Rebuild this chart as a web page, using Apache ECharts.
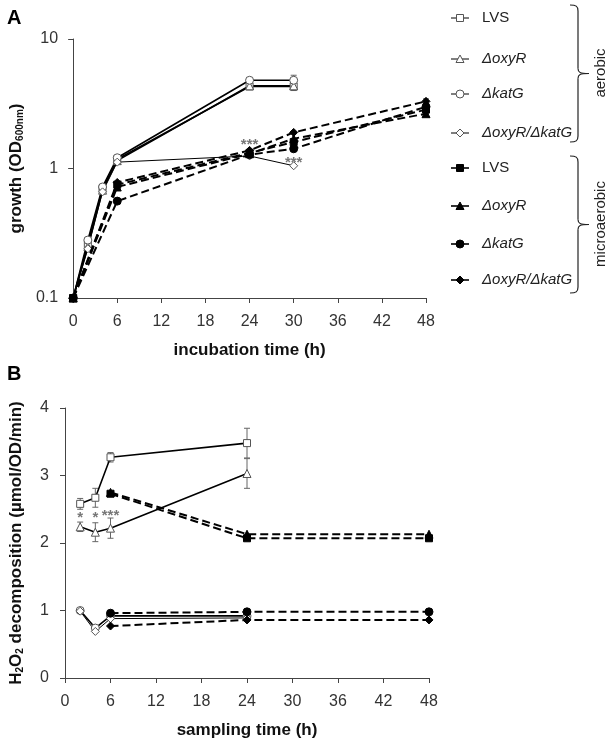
<!DOCTYPE html>
<html><head><meta charset="utf-8">
<script src="https://cdn.jsdelivr.net/npm/echarts@6/dist/echarts.min.js"></script>
<style>html,body{margin:0;padding:0;background:#fff}#c{width:616px;height:741px}</style>
</head><body><div id="c"></div>
<script>
// ---------- Panel A data (growth, OD600) ----------
const xTicks = [0, 6, 12, 18, 24, 30, 36, 42, 48];
const timeA_aer = [0, 2, 4, 6, 24, 30];
const A_aer_LVS  = [0.1, 0.26, 0.70, 1.18, 4.3, 4.3];
const A_aer_oxyR = [0.1, 0.25, 0.68, 1.15, 4.35, 4.35];
const A_aer_katG = [0.1, 0.28, 0.72, 1.21, 4.8, 4.8];
const A_aer_dbl  = [0.1, 0.24, 0.66, 1.12, 1.25, 1.05];
const timeA_mic = [0, 6, 24, 30, 48];
const A_mic_LVS  = [0.1, 0.75, 1.32, 1.60, 2.85];
const A_mic_oxyR = [0.1, 0.72, 1.30, 1.70, 2.65];
const A_mic_katG = [0.1, 0.56, 1.28, 1.42, 3.0];
const A_mic_dbl  = [0.1, 0.78, 1.38, 1.90, 3.3];
// error bars A: [time, value, err]
const A_err = [[30, 4.3, 0.3], [30, 4.8, 0.45], [24, 4.8, 0.2], [48, 2.85, 0.2], [48, 3.3, 0.15], [48, 2.65, 0.12]];
const A_stars = [[24, 1.53, '***'], [30, 1.11, '***']];

// ---------- Panel B data (H2O2 decomposition) ----------
const timeB_aer = [2, 4, 6, 24];
const B_aer_LVS  = [2.58, 2.67, 3.27, 3.48];
const B_aer_LVS_err = [0.08, 0.14, 0.07, 0.22];
const B_aer_oxyR = [2.24, 2.16, 2.22, 3.03];
const B_aer_oxyR_err = [0.07, 0.14, 0.15, 0.22];
const B_aer_katG = [1.0, 0.74, 0.92, 0.92];
const B_aer_dbl  = [0.99, 0.69, 0.88, 0.89];
const timeB_mic = [6, 24, 48];
const B_mic_LVS  = [2.73, 2.07, 2.07];
const B_mic_oxyR = [2.75, 2.13, 2.13];
const B_mic_katG = [0.96, 0.98, 0.98];
const B_mic_dbl  = [0.77, 0.86, 0.86];
const B_stars = [[2, 2.37, '*'], [4, 2.37, '*'], [6, 2.40, '***']];

const legendNames = ['LVS', 'ΔoxyR', 'ΔkatG', 'ΔoxyR/ΔkatG'];

// ---------- helpers ----------
const zip = (t, v) => t.map((x, i) => [x, v[i]]);
const FONT = 'Liberation Sans, Arial, sans-serif';
const symbols = ['rect', 'triangle', 'circle', 'diamond'];
const sizes = [7, 8, 8, 8];
function lineSeries(name, t, v, k, open, xi) {
  return {
    type: 'line', name: name, xAxisIndex: xi, yAxisIndex: xi,
    data: zip(t, v), symbol: symbols[k], symbolSize: sizes[k], showSymbol: true,
    lineStyle: open ? { color: '#000', width: k === 3 ? 1 : 1.6 } : { color: '#000', width: 2, type: [8, 4] },
    itemStyle: open ? { color: '#fff', borderColor: '#555', borderWidth: 1 } : { color: '#000', borderColor: '#000', borderWidth: 1 },
    z: open ? 3 : 4, animation: false
  };
}
function errSeries(list, xi) {
  return {
    type: 'custom', xAxisIndex: xi, yAxisIndex: xi, z: 2, silent: true, animation: false,
    data: list.map(d => [d[0], d[1] - d[2], d[1] + d[2]]),
    renderItem: function (params, api) {
      const lo = api.coord([api.value(0), api.value(1)]);
      const hi = api.coord([api.value(0), api.value(2)]);
      const w = 3;
      const st = { stroke: '#666', lineWidth: 1 };
      return { type: 'group', children: [
        { type: 'line', shape: { x1: lo[0], y1: lo[1], x2: hi[0], y2: hi[1] }, style: st },
        { type: 'line', shape: { x1: lo[0] - w, y1: lo[1], x2: lo[0] + w, y2: lo[1] }, style: st },
        { type: 'line', shape: { x1: hi[0] - w, y1: hi[1], x2: hi[0] + w, y2: hi[1] }, style: st }
      ]};
    }
  };
}
function starSeries(list, xi) {
  return {
    type: 'scatter', xAxisIndex: xi, yAxisIndex: xi, symbolSize: 1, z: 5, animation: false,
    itemStyle: { color: 'rgba(0,0,0,0)' },
    data: list.map(d => ({ value: [d[0], d[1]], name: d[2] })),
    label: { show: true, position: 'inside', formatter: p => p.name, fontSize: 15, fontWeight: 'bold', color: '#555', fontFamily: FONT }
  };
}
const axisCommon = {
  axisLine: { lineStyle: { color: '#444', width: 1 } },
  axisTick: { show: true, inside: false, length: 5, lineStyle: { color: '#444' } },
  axisLabel: { color: '#333', fontSize: 16, fontFamily: FONT, margin: 16 },
  splitLine: { show: false }
};
const subRich = { sub: { fontSize: 10, fontWeight: 'bold', fontFamily: FONT, color: '#111', verticalAlign: 'bottom', padding: [7, 0, 0, 0] } };

const option = {
  animation: false,
  backgroundColor: '#fff',
  grid: [
    { left: 69, top: 39, width: 357, height: 259 },
    { left: 63, top: 408, width: 366, height: 270 }
  ],
  xAxis: [
    Object.assign({}, axisCommon, { type: 'value', gridIndex: 0, min: 0, max: 48, interval: 6,
      name: 'incubation time (h)', nameLocation: 'middle', nameGap: 44,
      nameTextStyle: { fontSize: 17, fontWeight: 'bold', color: '#111', fontFamily: FONT } }),
    Object.assign({}, axisCommon, { type: 'value', gridIndex: 1, min: 0, max: 48, interval: 6,
      name: 'sampling time (h)', nameLocation: 'middle', nameGap: 44,
      nameTextStyle: { fontSize: 17, fontWeight: 'bold', color: '#111', fontFamily: FONT } })
  ],
  yAxis: [
    Object.assign({}, axisCommon, { type: 'log', logBase: 10, gridIndex: 0, min: 0.1, max: 10,
      axisLabel: Object.assign({}, axisCommon.axisLabel, { formatter: v => String(v), margin: 15 }),
      name: 'growth (OD{sub|600nm})', nameLocation: 'middle', nameGap: 46, nameRotate: 90,
      nameTextStyle: { fontSize: 17, fontWeight: 'bold', color: '#111', fontFamily: FONT, rich: subRich } }),
    Object.assign({}, axisCommon, { type: 'value', gridIndex: 1, min: 0, max: 4, interval: 1,
      name: 'H{sub|2}O{sub|2} decomposition (µmol/OD/min)', nameLocation: 'middle', nameGap: 40, nameRotate: 90,
      nameTextStyle: { fontSize: 17, fontWeight: 'bold', color: '#111', fontFamily: FONT, rich: subRich } })
  ],
  series: [
    lineSeries('A aer LVS', timeA_aer, A_aer_LVS, 0, true, 0),
    lineSeries('A aer oxyR', timeA_aer, A_aer_oxyR, 1, true, 0),
    lineSeries('A aer katG', timeA_aer, A_aer_katG, 2, true, 0),
    lineSeries('A aer dbl', timeA_aer, A_aer_dbl, 3, true, 0),
    lineSeries('A mic LVS', timeA_mic, A_mic_LVS, 0, false, 0),
    lineSeries('A mic oxyR', timeA_mic, A_mic_oxyR, 1, false, 0),
    lineSeries('A mic katG', timeA_mic, A_mic_katG, 2, false, 0),
    lineSeries('A mic dbl', timeA_mic, A_mic_dbl, 3, false, 0),
    errSeries(A_err, 0),
    starSeries(A_stars, 0),
    lineSeries('B aer LVS', timeB_aer, B_aer_LVS, 0, true, 1),
    lineSeries('B aer oxyR', timeB_aer, B_aer_oxyR, 1, true, 1),
    lineSeries('B aer katG', timeB_aer, B_aer_katG, 2, true, 1),
    lineSeries('B aer dbl', timeB_aer, B_aer_dbl, 3, true, 1),
    lineSeries('B mic LVS', timeB_mic, B_mic_LVS, 0, false, 1),
    lineSeries('B mic oxyR', timeB_mic, B_mic_oxyR, 1, false, 1),
    lineSeries('B mic katG', timeB_mic, B_mic_katG, 2, false, 1),
    lineSeries('B mic dbl', timeB_mic, B_mic_dbl, 3, false, 1),
    errSeries(timeB_aer.map((t, i) => [t, B_aer_LVS[i], B_aer_LVS_err[i]]).concat(
              timeB_aer.map((t, i) => [t, B_aer_oxyR[i], B_aer_oxyR_err[i]])), 1),
    starSeries(B_stars, 1)
  ]
};

// ---------- legend & brackets as graphics ----------
const g = [];
g.push({ type: 'text', x: 7, y: 8, style: { text: 'A', font: 'bold 20px ' + FONT, fill: '#000' } });
g.push({ type: 'text', x: 7, y: 364, style: { text: 'B', font: 'bold 20px ' + FONT, fill: '#000' } });
const legY = [18, 59, 94, 133, 168, 206, 244, 280];
function symShape(k, cx, cy, open) {
  const st = open ? { fill: '#fff', stroke: '#555', lineWidth: 1 } : { fill: '#000', stroke: '#000', lineWidth: 1 };
  if (k === 0) return { type: 'rect', shape: { x: cx - 3.5, y: cy - 3.5, width: 7, height: 7 }, style: st };
  if (k === 1) return { type: 'polygon', shape: { points: [[cx, cy - 4], [cx + 4, cy + 3.5], [cx - 4, cy + 3.5]] }, style: st };
  if (k === 2) return { type: 'circle', shape: { cx: cx, cy: cy, r: 4 }, style: st };
  return { type: 'polygon', shape: { points: [[cx, cy - 4], [cx + 4, cy], [cx, cy + 4], [cx - 4, cy]] }, style: st };
}
for (let i = 0; i < 8; i++) {
  const k = i % 4, open = i < 4, y = legY[i];
  g.push({ type: 'line', shape: { x1: 451, y1: y, x2: 469, y2: y }, style: { stroke: '#000', lineWidth: open ? 1 : 1.6 } });
  g.push(symShape(k, 460, y, open));
  g.push({ type: 'text', x: 482, y: y, style: { text: legendNames[k], font: (k === 0 ? '' : 'italic ') + '15px ' + FONT, fill: '#222', textVerticalAlign: 'middle' } });
}
function brace(y0, y1) {
  const ym = (y0 + y1) / 2, x = 578;
  const st = { stroke: '#222', lineWidth: 1.2, fill: null };
  return [
    { type: 'bezierCurve', shape: { x1: 570, y1: y0, cpx1: 576, cpy1: y0, cpx2: x, cpy2: y0 + 1, x2: x, y2: y0 + 6 }, style: st },
    { type: 'line', shape: { x1: x, y1: y0 + 6, x2: x, y2: ym - 5 }, style: st },
    { type: 'bezierCurve', shape: { x1: x, y1: ym - 5, cpx1: x, cpy1: ym - 1, cpx2: x + 2, cpy2: ym, x2: x + 11, y2: ym }, style: st },
    { type: 'bezierCurve', shape: { x1: x + 11, y1: ym, cpx1: x + 2, cpy1: ym, cpx2: x, cpy2: ym + 1, x2: x, y2: ym + 5 }, style: st },
    { type: 'line', shape: { x1: x, y1: ym + 5, x2: x, y2: y1 - 6 }, style: st },
    { type: 'bezierCurve', shape: { x1: x, y1: y1 - 6, cpx1: x, cpy1: y1 - 1, cpx2: 576, cpy2: y1, x2: 570, y2: y1 }, style: st }
  ];
}
brace(5, 142).forEach(e => g.push(e));
brace(156, 293).forEach(e => g.push(e));
g.push({ type: 'text', x: 601, y: 73, rotation: Math.PI / 2, style: { text: 'aerobic', font: '15px ' + FONT, fill: '#222', textAlign: 'center', textVerticalAlign: 'middle' } });
g.push({ type: 'text', x: 601, y: 224, rotation: Math.PI / 2, style: { text: 'microaerobic', font: '15px ' + FONT, fill: '#222', textAlign: 'center', textVerticalAlign: 'middle' } });
option.graphic = g;

const chart = echarts.init(document.getElementById('c'), null, { renderer: 'canvas' });
chart.setOption(option);
</script></body></html>
